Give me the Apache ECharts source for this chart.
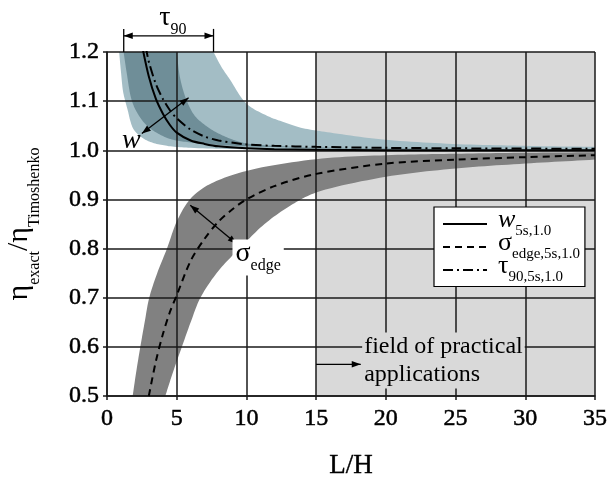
<!DOCTYPE html>
<html>
<head>
<meta charset="utf-8">
<script src="https://cdn.jsdelivr.net/npm/echarts@6/dist/echarts.min.js"></script>
<style>
html, body { margin: 0; padding: 0; background: #fff; }
#main { width: 609px; height: 480px; }
</style>
</head>
<body>
<div id="main"></div>
<script>
// axis ranges
var xRange = [0, 35];
var yRange = [0.5, 1.2];
var practicalRange = [15, 35];

// mean curves [L/H, ratio]
var wLine = [[2.5, 1.215], [3, 1.15], [3.5, 1.105], [4, 1.075], [4.5, 1.052], [5, 1.036], [6, 1.02], [7, 1.013], [8, 1.008], [10, 1.004], [12, 1.002], [15, 1.001], [20, 1.0], [25, 1.0], [30, 1.0], [35, 1.0]];
var sigmaLine = [[3, 0.5], [3.5, 0.57], [4, 0.625], [4.5, 0.67], [5, 0.705], [6, 0.775], [7, 0.82], [8, 0.855], [9, 0.88], [10, 0.9], [12, 0.927], [15, 0.952], [20, 0.973], [25, 0.981], [30, 0.986], [35, 0.99]];
var tauLine = [[2.5, 1.25], [2.85, 1.2], [3, 1.18], [3.5, 1.135], [4, 1.105], [4.5, 1.082], [5, 1.065], [6, 1.042], [7, 1.028], [8, 1.02], [10, 1.012], [12, 1.009], [15, 1.007], [20, 1.005], [25, 1.004], [30, 1.0035], [35, 1.003]];

// scatter bands, edges
var wBandLo = [[0.87, 1.2], [1.0, 1.16], [1.15, 1.12], [1.31, 1.1], [1.5, 1.08], [1.67, 1.06], [1.9, 1.043], [2.4, 1.028], [3.1, 1.017], [4.3, 1.009], [6, 1.005], [10, 1.002], [15, 1.0], [35, 0.999]];
var wBandHi = [[5.0, 1.2], [5.25, 1.146], [5.73, 1.1], [6.3, 1.07], [7.0, 1.052], [7.8, 1.037], [9, 1.022], [10, 1.014], [12, 1.009], [15, 1.006], [20, 1.004], [35, 1.002]];
var tauBandLo = [[1.19, 1.2], [1.4, 1.16], [1.79, 1.1], [2.3, 1.07], [2.87, 1.05], [3.6, 1.035], [4.65, 1.022], [6, 1.016], [8, 1.011], [10, 1.008], [15, 1.005], [20, 1.003], [35, 1.001]];
var tauBandHi = [[7.64, 1.2], [8.2, 1.17], [8.84, 1.143], [10, 1.095], [11.5, 1.07], [12.6, 1.058], [13.9, 1.046], [16, 1.036], [19.8, 1.022], [24.8, 1.013], [30, 1.009], [35, 1.007]];
var sigmaBandHi = [[1.84, 0.5], [2.1, 0.55], [2.39, 0.6], [2.7, 0.65], [3.03, 0.7], [3.6, 0.75], [4.3, 0.8], [5.0, 0.855], [5.8, 0.895], [6.5, 0.915], [7.5, 0.933], [10, 0.958], [15, 0.982], [20, 0.99], [25, 0.993], [30, 0.995], [35, 0.996]];
var sigmaBandLo = [[4.18, 0.5], [4.75, 0.55], [5.37, 0.6], [6.0, 0.65], [6.7, 0.7], [8.0, 0.755], [9.5, 0.8], [11.3, 0.85], [13.3, 0.89], [15, 0.914], [20, 0.946], [25, 0.963], [30, 0.973], [35, 0.981]];

// annotations (data coords)
var tauSpan = [[1.2, 1.233], [7.64, 1.233]];
var tauLabelPos = [3.75, 1.262];
var wArrow = [[2.5, 1.034], [5.85, 1.107]];
var wLabelPos = [1.75, 1.02];
var sigmaArrow = [[5.97, 0.888], [9.3, 0.81]];
var sigmaLabelPos = [9.0, 0.782];
var practicalArrow = [[15, 0.5645], [18.2, 0.5645]];
var practicalLabelPos = [18.3, 0.572];

var SERIF = '"Liberation Serif", "DejaVu Serif", serif';
var INK = '#1a1a1a';

// subscripts: the main glyph is lifted by bottom padding, the subscript pushed down by top padding
var legendRich = {
    g: { fontFamily: SERIF, fontSize: 26, padding: [0, 0, 8, 6], color: '#000' },
    gi: { fontFamily: SERIF, fontSize: 26, fontStyle: 'italic', padding: [0, 0, 8, 6], color: '#000' },
    s: { fontFamily: SERIF, fontSize: 15, padding: [14, 0, 0, 0], color: '#000' }
};
var noteRich = {
    g: { fontFamily: SERIF, fontSize: 28, padding: [0, 0, 8, 0], color: '#000' },
    s: { fontFamily: SERIF, fontSize: 16, padding: [16, 0, 0, 0], color: '#000' }
};
var legendText = {
    'w': '{gi|w}{s|5s,1.0}',
    'sigma': '{g|σ}{s|edge,5s,1.0}',
    'tau': '{g|τ}{s|90,5s,1.0}'
};

var chart = echarts.init(document.getElementById('main'));

// centripetal Catmull-Rom through the edge points (pixel space)
function spline(pts) {
    var n = pts.length, out = [pts[0]];
    function d(a, b) { return Math.pow(Math.hypot(b[0] - a[0], b[1] - a[1]) || 1e-6, 0.5); }
    function lerp(a, b, ta, tb, t) {
        var u = (t - ta) / (tb - ta);
        return [a[0] + (b[0] - a[0]) * u, a[1] + (b[1] - a[1]) * u];
    }
    for (var i = 0; i < n - 1; i++) {
        var p1 = pts[i], p2 = pts[i + 1];
        var p0 = i > 0 ? pts[i - 1] : [2 * p1[0] - p2[0], 2 * p1[1] - p2[1]];
        var p3 = i < n - 2 ? pts[i + 2] : [2 * p2[0] - p1[0], 2 * p2[1] - p1[1]];
        var t0 = 0, t1 = t0 + d(p0, p1), t2 = t1 + d(p1, p2), t3 = t2 + d(p2, p3);
        for (var j = 1; j <= 12; j++) {
            var t = t1 + (t2 - t1) * j / 12;
            var a1 = lerp(p0, p1, t0, t1, t), a2 = lerp(p1, p2, t1, t2, t), a3 = lerp(p2, p3, t2, t3, t);
            var b1 = lerp(a1, a2, t0, t2, t), b2 = lerp(a2, a3, t1, t3, t);
            out.push(lerp(b1, b2, t1, t2, t));
        }
    }
    return out;
}

function band(lo, hi, color, z) {
    return {
        type: 'custom',
        silent: true,
        z: z,
        data: [[10, 1]],
        renderItem: function (params, api) {
            var a = spline(lo.map(function (p) { return api.coord(p); }));
            var b = spline(hi.map(function (p) { return api.coord(p); }));
            return { type: 'polygon', shape: { points: a.concat(b.reverse()) }, style: { fill: color } };
        }
    };
}

function region(r, color) {
    return {
        type: 'custom',
        silent: true,
        z: 0,
        data: [[r[0], yRange[0]]],
        renderItem: function (params, api) {
            var a = api.coord([r[0], yRange[1]]);
            var b = api.coord([r[1], yRange[0]]);
            return { type: 'rect', shape: { x: a[0], y: a[1], width: b[0] - a[0], height: b[1] - a[1] }, style: { fill: color } };
        }
    };
}

var axisCommon = {
    type: 'value',
    z: 2,
    axisLine: { show: true, onZero: false, lineStyle: { color: INK, width: 1.5 } },
    axisTick: { show: true, length: 4, lineStyle: { color: INK, width: 1.5 } },
    splitLine: { show: true, lineStyle: { color: INK, width: 1.5 } }
};

option = {
    animation: false,
    backgroundColor: '#fff',
    grid: { left: 107, right: 14, top: 52, bottom: 84, containLabel: false, outerBoundsMode: 'none' },
    xAxis: Object.assign({}, axisCommon, {
        min: xRange[0], max: xRange[1], interval: 5,
        axisLabel: { fontFamily: SERIF, fontSize: 24, color: '#000', margin: 11,
            textBorderColor: '#000', textBorderWidth: 0.5 },
        name: 'L/H', nameLocation: 'middle', nameGap: 56,
        nameTextStyle: { fontFamily: SERIF, fontSize: 27, color: '#000', textBorderColor: '#000', textBorderWidth: 0.4 }
    }),
    yAxis: Object.assign({}, axisCommon, {
        min: yRange[0], max: yRange[1], interval: 0.1,
        axisLabel: { fontFamily: SERIF, fontSize: 24, color: '#000', margin: 8,
            textBorderColor: '#000', textBorderWidth: 0.5,
            formatter: function (v) { return v.toFixed(1); } },
        name: '{e|η}{s|exact}{e|/η}{s|Timoshenko}', nameLocation: 'middle', nameGap: 64,
        nameTextStyle: { color: '#000', rich: {
            e: { fontFamily: SERIF, fontSize: 30, padding: [0, 0, 8, 0], color: '#000' },
            s: { fontFamily: SERIF, fontSize: 16, padding: [23, 0, 0, 0], color: '#000' }
        } }
    }),
    legend: {
        data: ['w', 'sigma', 'tau'],
        orient: 'vertical', left: 434, top: 207,
        selectedMode: false,
        backgroundColor: '#fff', borderColor: '#000', borderWidth: 1.2, borderRadius: 0,
        padding: [0, 5, 2, 8], itemGap: -8.5, itemWidth: 44, itemHeight: 14,
        itemStyle: { opacity: 0 },
        formatter: function (name) { return legendText[name]; },
        textStyle: { color: '#000', rich: legendRich }
    },
    series: [
        region(practicalRange, '#d9d9d9'),
        band(sigmaBandHi, sigmaBandLo, '#818181', 1),
        band(wBandLo, wBandHi, '#a3bdc5', 1),
        band(tauBandLo, tauBandHi, '#a3bdc5', 1),
        band(tauBandLo, wBandHi, '#6f8e98', 1),
        { name: 'w', type: 'line', z: 3, symbol: 'none', smooth: 0.3, data: wLine, color: '#000',
          lineStyle: { color: '#000', width: 2 } },
        { name: 'sigma', type: 'line', z: 3, symbol: 'none', smooth: 0.3, data: sigmaLine, color: '#000',
          lineStyle: { color: '#000', width: 2, type: [7, 5] } },
        { name: 'tau', type: 'line', z: 3, symbol: 'none', smooth: 0.3, data: tauLine, color: '#000',
          lineStyle: { color: '#000', width: 2, type: [10, 4, 2, 4] } }
    ]
};
chart.setOption(option);

// annotations placed through the axes
function px(p) { return chart.convertToPixel({ gridIndex: 0 }, p); }

function head(tip, from) {
    var dx = tip[0] - from[0], dy = tip[1] - from[1];
    var L = Math.sqrt(dx * dx + dy * dy), ux = dx / L, uy = dy / L;
    var len = 9, w = 3.2;
    var bx = tip[0] - ux * len, by = tip[1] - uy * len;
    return { type: 'polygon', z: 10, shape: { points: [tip, [bx - uy * w, by + ux * w], [bx + uy * w, by - ux * w]] }, style: { fill: '#000' } };
}

function arrow(seg, both, lw) {
    var p = px(seg[0]), q = px(seg[1]);
    var els = [{ type: 'line', z: 10, shape: { x1: p[0], y1: p[1], x2: q[0], y2: q[1] }, style: { stroke: '#000', lineWidth: lw || 1.3 } }];
    els.push(head(q, p));
    if (both) els.push(head(p, q));
    return els;
}

var tA = px([tauSpan[0][0], 1.247]), tB = px([tauSpan[0][0], 1.2]);
var tC = px([tauSpan[1][0], 1.247]), tD = px([tauSpan[1][0], 1.2]);
var tl = px(tauLabelPos), wl = px(wLabelPos), sl = px(sigmaLabelPos), pl = px(practicalLabelPos);

var graphics = [].concat(
    arrow(tauSpan, true, 1.3),
    [{ type: 'line', z: 10, shape: { x1: tA[0], y1: tA[1], x2: tB[0], y2: tB[1] }, style: { stroke: '#000', lineWidth: 1.3 } },
     { type: 'line', z: 10, shape: { x1: tC[0], y1: tC[1], x2: tD[0], y2: tD[1] }, style: { stroke: '#000', lineWidth: 1.3 } }],
    arrow(wArrow, true, 1.3),
    arrow(sigmaArrow, true, 1.3),
    arrow(practicalArrow, false, 1.3),
    [
        { type: 'text', z: 10, x: tl[0], y: tl[1], style: { text: '{g|τ}{s|90}', textVerticalAlign: 'middle', rich: noteRich } },
        { type: 'text', z: 10, x: wl[0], y: wl[1], style: { text: 'w', font: 'italic 28px "Liberation Serif"', fill: '#000', textAlign: 'center', textVerticalAlign: 'middle' } },
        { type: 'text', z: 10, x: sl[0], y: sl[1], style: { text: '{g|σ}{s|edge}', textVerticalAlign: 'middle', backgroundColor: '#fff', padding: [0, 3, 0, 3], rich: noteRich } },
        { type: 'text', z: 10, x: pl[0], y: pl[1], style: { text: 'field of practical\napplications', font: '24px "Liberation Serif"', lineHeight: 28, fill: '#000', textVerticalAlign: 'middle', backgroundColor: '#d9d9d9', padding: [0, 2, 0, 2] } }
    ]
);
chart.setOption({ graphic: graphics });
</script>
</body>
</html>
